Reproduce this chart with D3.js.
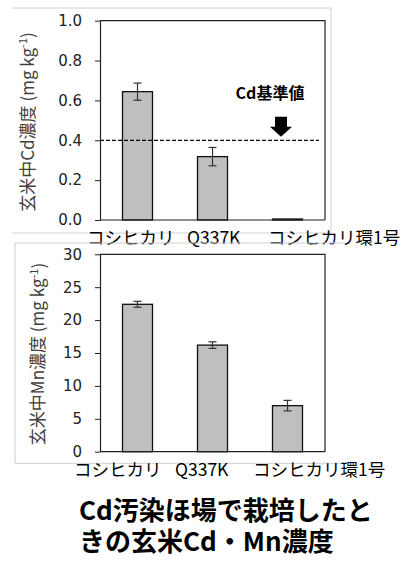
<!DOCTYPE html>
<html>
<head>
<meta charset="utf-8">
<script src="https://cdn.jsdelivr.net/npm/d3@7"></script>
<style>
  body { margin: 0; background: #fff; }
  svg { display: block; font-family: "Noto Sans CJK JP", "Noto Sans", sans-serif; }
</style>
</head>
<body>
<svg id="chart" width="411" height="563"></svg>
<script>
// data
var categories = ["コシヒカリ", "Q337K", "コシヒカリ環1号"];
var cdMeans = [0.644, 0.318, 0.005];
var cdErrors = [0.043, 0.046, 0];
var mnMeans = [22.4, 16.2, 7.0];
var mnErrors = [0.45, 0.5, 0.8];
var cdTicks = [0, 0.2, 0.4, 0.6, 0.8, 1.0];
var mnTicks = [0, 5, 10, 15, 20, 25, 30];
var cdLimit = 0.4;
var titleLines = ["Cd汚染ほ場で栽培したと", "きの玄米Cd・Mn濃度"];

var svg = d3.select("#chart");

function drawPanel(opt) {
  var g = svg.append("g");

  // light grey frame around the panel
  g.append("path")
    .attr("d", opt.frame)
    .attr("fill", "none")
    .attr("stroke", "#d0d0d0")
    .attr("stroke-width", 1);

  var x = d3.scaleBand()
    .domain(categories)
    .range([100, 325])
    .paddingInner(0.6)
    .paddingOuter(0.3);

  var y = d3.scaleLinear()
    .domain(opt.domain)
    .range([opt.bottom, opt.top]);

  var data = categories.map((c, i) => ({ cat: c, v: opt.means[i], e: opt.errors[i] }));

  // plot box (top and right edges)
  g.append("path")
    .attr("d", "M100," + opt.top + "H325V" + opt.bottom)
    .attr("fill", "none")
    .attr("stroke", "#222")
    .attr("stroke-width", 1.2);

  // bars
  g.selectAll("rect.bar")
    .data(data)
    .enter()
      .append("rect")
      .attr("class", "bar")
      .attr("x", d => x(d.cat))
      .attr("y", d => y(d.v))
      .attr("width", x.bandwidth())
      .attr("height", d => y(0) - y(d.v))
      .attr("fill", "#bfbfbf")
      .attr("stroke", "#111")
      .attr("stroke-width", 1.3);

  // error bars
  var err = g.selectAll("g.err")
    .data(data.filter(d => d.e > 0))
    .enter()
      .append("g")
      .attr("class", "err")
      .attr("stroke", "#333")
      .attr("stroke-width", 1.2);
  err.append("line")
    .attr("x1", d => x(d.cat) + x.bandwidth() / 2)
    .attr("x2", d => x(d.cat) + x.bandwidth() / 2)
    .attr("y1", d => y(d.v + d.e))
    .attr("y2", d => y(d.v - d.e));
  [1, -1].forEach(s => {
    err.append("line")
      .attr("x1", d => x(d.cat) + x.bandwidth() / 2 - 4)
      .attr("x2", d => x(d.cat) + x.bandwidth() / 2 + 4)
      .attr("y1", d => y(d.v + s * d.e))
      .attr("y2", d => y(d.v + s * d.e));
  });

  // y axis
  var yAxis = g.append("g")
    .attr("transform", "translate(100,0)")
    .call(d3.axisLeft(y).tickValues(opt.ticks).tickFormat(opt.format).tickSizeInner(5).tickSizeOuter(0).tickPadding(13));
  yAxis.select(".domain").attr("stroke", "#222").attr("stroke-width", 1.2);
  yAxis.selectAll(".tick line").attr("stroke", "#222");
  yAxis.selectAll("text")
    .attr("font-size", 15)
    .attr("font-family", "'DejaVu Sans', sans-serif")
    .attr("fill", "#222");

  // x axis line
  g.append("line")
    .attr("x1", 100).attr("x2", 325)
    .attr("y1", y(0)).attr("y2", y(0))
    .attr("stroke", "#222")
    .attr("stroke-width", 1.2);

  // category labels
  g.selectAll("text.cat")
    .data(categories)
    .enter()
      .append("text")
      .attr("class", "cat")
      .attr("x", (d, i) => opt.labelX[i])
      .attr("y", opt.labelY)
      .attr("dy", "0.35em")
      .attr("font-size", 17.5)
      .attr("fill", "#000")
      .text(d => d);

  // axis title
  var t = g.append("text")
    .attr("transform", "translate(" + opt.titleX + "," + opt.titleY + ") rotate(-90)")
    .attr("text-anchor", "middle")
    .attr("dy", "0.35em")
    .attr("font-size", 17)
    .attr("fill", "#404040");
  t.append("tspan").text("玄米中" + opt.element + "濃度 (mg kg");
  t.append("tspan").attr("font-size", 11).attr("dy", "-0.6em").text("-1");
  t.append("tspan").attr("dy", "0.4em").text(")");

  return { g: g, x: x, y: y };
}

var cd = drawPanel({
  frame: "M12,8H331V233H12",
  top: 20.7, bottom: 220,
  domain: [0, 1], ticks: cdTicks, format: d3.format(".1f"),
  means: cdMeans, errors: cdErrors, element: "Cd",
  labelX: [87, 187, 268], labelY: 238,
  titleX: 28, titleY: 122
});

drawPanel({
  frame: "M345,243H15V463.3H345",
  top: 254.3, bottom: 451.7,
  domain: [0, 30], ticks: mnTicks, format: d3.format("d"),
  means: mnMeans, errors: mnErrors, element: "Mn",
  labelX: [74, 175, 253], labelY: 470,
  titleX: 38.5, titleY: 354
});

// Cd limit line and marker
cd.g.append("line")
  .attr("x1", 100).attr("x2", 319)
  .attr("y1", cd.y(cdLimit)).attr("y2", cd.y(cdLimit))
  .attr("stroke", "#000")
  .attr("stroke-width", 1.2)
  .attr("stroke-dasharray", "4,2");

var ax = 281, ay = cd.y(cdLimit) - 3.5;
cd.g.append("path")
  .attr("d", "M" + ax + "," + ay + "l-11,-10h5v-10h12v10h5z")
  .attr("fill", "#000");

cd.g.append("text")
  .attr("x", 270).attr("y", 93)
  .attr("dy", "0.35em")
  .attr("text-anchor", "middle")
  .attr("font-size", 16)
  .attr("font-weight", "bold")
  .text("Cd基準値");

// caption
svg.selectAll("text.title")
  .data(titleLines)
  .enter()
    .append("text")
    .attr("class", "title")
    .attr("x", 79)
    .attr("y", (d, i) => 511 + i * 31)
    .attr("dy", "0.35em")
    .attr("font-size", 26)
    .attr("font-weight", "bold")
    .attr("fill", "#000")
    .text(d => d);
</script>
</body>
</html>
